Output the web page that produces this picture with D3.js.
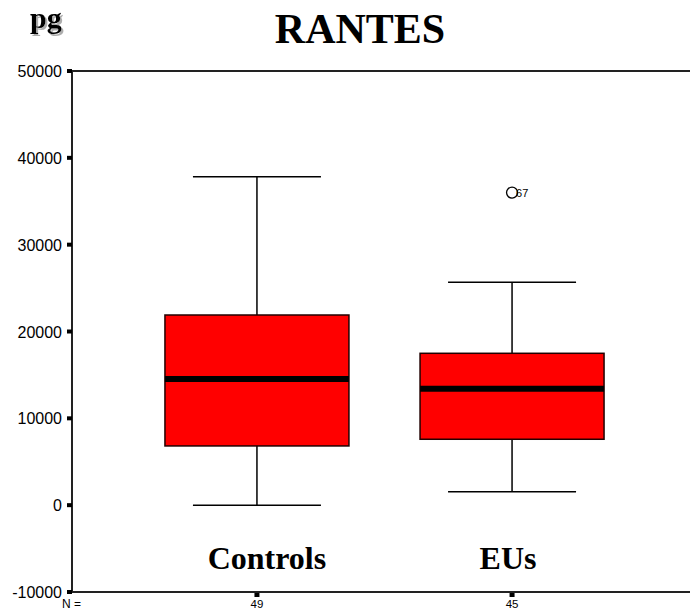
<!DOCTYPE html>
<html lang="en">
<meta charset="utf-8">
<head>
    <script src="https://d3js.org/d3.v7.min.js"></script>
    <style>
        body { margin: 0; background: #fff; }
        .tick-label { font-family: "Liberation Sans", Arial, sans-serif; font-size: 16px; }
        .serif { font-family: "Liberation Serif", "Times New Roman", serif; font-weight: bold; }
    </style>
</head>
<body>
<script>
    // data
    var groups = ["Controls", "EUs"];
    var counts = [49, 45];
    var whiskerLow = [0, 1550];
    var q1 = [6820, 7590];
    var medians = [14530, 13420];
    var q3 = [21900, 17490];
    var whiskerHigh = [37830, 25670];
    var outliers = [{group: "EUs", value: 36000, label: "67"}];
    var yTicks = [-10000, 0, 10000, 20000, 30000, 40000, 50000];

    var width = 690, height = 612;

    var svg = d3.select("body")
        .append("svg")
        .attr("width", width)
        .attr("height", height);

    // soft grey shadow used on the "pg" unit label
    var defs = svg.append("defs");
    defs.append("filter")
        .attr("id", "shadow")
        .attr("x", "-20%").attr("y", "-20%")
        .attr("width", "150%").attr("height", "150%")
        .append("feDropShadow")
        .attr("dx", 2).attr("dy", 2)
        .attr("stdDeviation", 0.6)
        .attr("flood-color", "#999")
        .attr("flood-opacity", 0.8);

    var x = d3.scalePoint()
        .domain(groups)
        .range([72, 697])
        .padding(0.725);

    var y = d3.scaleLinear()
        .domain([-10000, 50000])
        .range([592, 71]);

    var boxW = 184;
    var capW = 128;

    // frame: top line, left axis, bottom axis
    svg.append("line")
        .attr("x1", 72).attr("x2", width)
        .attr("y1", y(50000)).attr("y2", y(50000))
        .attr("stroke", "#222").attr("stroke-width", 2);
    svg.append("line")
        .attr("x1", 72).attr("x2", width)
        .attr("y1", y(-10000)).attr("y2", y(-10000))
        .attr("stroke", "#222").attr("stroke-width", 2);
    svg.append("line")
        .attr("x1", 72).attr("x2", 72)
        .attr("y1", y(50000)).attr("y2", y(-10000))
        .attr("stroke", "#222").attr("stroke-width", 2);

    // y ticks: little squares + labels
    var yt = svg.append("g").selectAll("g")
        .data(yTicks)
        .enter()
        .append("g");
    yt.append("rect")
        .attr("x", 67)
        .attr("y", function(d) { return y(d) - 2; })
        .attr("width", 5)
        .attr("height", 4)
        .attr("fill", "#000");
    yt.append("text")
        .attr("class", "tick-label")
        .attr("x", 62)
        .attr("y", function(d) { return y(d) + 6; })
        .attr("text-anchor", "end")
        .text(function(d) { return d; });

    // x ticks under the axis
    svg.append("g").selectAll("rect")
        .data(groups)
        .enter()
        .append("rect")
        .attr("x", function(d) { return x(d) - 2.5; })
        .attr("y", 593)
        .attr("width", 5)
        .attr("height", 4)
        .attr("fill", "#000");

    // N = counts
    svg.append("text")
        .attr("x", 62)
        .attr("y", 608)
        .style("font-family", "Liberation Sans, Arial, sans-serif")
        .style("font-size", "12px")
        .text("N =");
    svg.append("g").selectAll("text")
        .data(groups)
        .enter()
        .append("text")
        .attr("x", function(d) { return x(d); })
        .attr("y", 608)
        .attr("text-anchor", "middle")
        .style("font-family", "Liberation Sans, Arial, sans-serif")
        .style("font-size", "11.5px")
        .text(function(d, i) { return counts[i]; });

    // boxes
    var box = svg.append("g").selectAll("g")
        .data(groups)
        .enter()
        .append("g");

    box.append("line")
        .attr("x1", function(d) { return x(d); })
        .attr("x2", function(d) { return x(d); })
        .attr("y1", function(d, i) { return y(whiskerHigh[i]); })
        .attr("y2", function(d, i) { return y(whiskerLow[i]); })
        .attr("stroke", "#000").attr("stroke-width", 1.5);
    box.append("line")
        .attr("x1", function(d) { return x(d) - capW / 2; })
        .attr("x2", function(d) { return x(d) + capW / 2; })
        .attr("y1", function(d, i) { return y(whiskerHigh[i]); })
        .attr("y2", function(d, i) { return y(whiskerHigh[i]); })
        .attr("stroke", "#000").attr("stroke-width", 1.5);
    box.append("line")
        .attr("x1", function(d) { return x(d) - capW / 2; })
        .attr("x2", function(d) { return x(d) + capW / 2; })
        .attr("y1", function(d, i) { return y(whiskerLow[i]); })
        .attr("y2", function(d, i) { return y(whiskerLow[i]); })
        .attr("stroke", "#000").attr("stroke-width", 1.5);

    box.append("rect")
        .attr("x", function(d) { return x(d) - boxW / 2; })
        .attr("y", function(d, i) { return y(q3[i]); })
        .attr("width", boxW)
        .attr("height", function(d, i) { return y(q1[i]) - y(q3[i]); })
        .attr("fill", "#ff0000")
        .attr("stroke", "#200")
        .attr("stroke-width", 1.5);

    box.append("line")
        .attr("x1", function(d) { return x(d) - boxW / 2; })
        .attr("x2", function(d) { return x(d) + boxW / 2; })
        .attr("y1", function(d, i) { return y(medians[i]); })
        .attr("y2", function(d, i) { return y(medians[i]); })
        .attr("stroke", "#000").attr("stroke-width", 6);

    // outliers
    var out = svg.append("g").selectAll("g")
        .data(outliers)
        .enter()
        .append("g");
    out.append("circle")
        .attr("cx", function(d) { return x(d.group); })
        .attr("cy", function(d) { return y(d.value); })
        .attr("r", 5.5)
        .attr("fill", "none")
        .attr("stroke", "#000")
        .attr("stroke-width", 1.3);
    out.append("text")
        .attr("x", function(d) { return x(d.group) + 4; })
        .attr("y", function(d) { return y(d.value) + 4; })
        .style("font-family", "Liberation Sans, Arial, sans-serif")
        .style("font-size", "11px")
        .text(function(d) { return d.label; });

    // group names inside the plot
    var nameShift = [10, -4];
    svg.append("g").selectAll("text")
        .data(groups)
        .enter()
        .append("text")
        .attr("class", "serif")
        .attr("x", function(d, i) { return x(d) + nameShift[i]; })
        .attr("y", 569)
        .attr("text-anchor", "middle")
        .style("font-size", "32px")
        .text(function(d) { return d; });

    // titles
    svg.append("text")
        .attr("class", "serif")
        .attr("x", 30).attr("y", 28)
        .style("font-size", "30px")
        .attr("filter", "url(#shadow)")
        .text("pg");

    svg.append("text")
        .attr("class", "serif")
        .attr("x", 360).attr("y", 43)
        .attr("text-anchor", "middle")
        .style("font-size", "42px")
        .text("RANTES");
</script>
</body>
</html>
